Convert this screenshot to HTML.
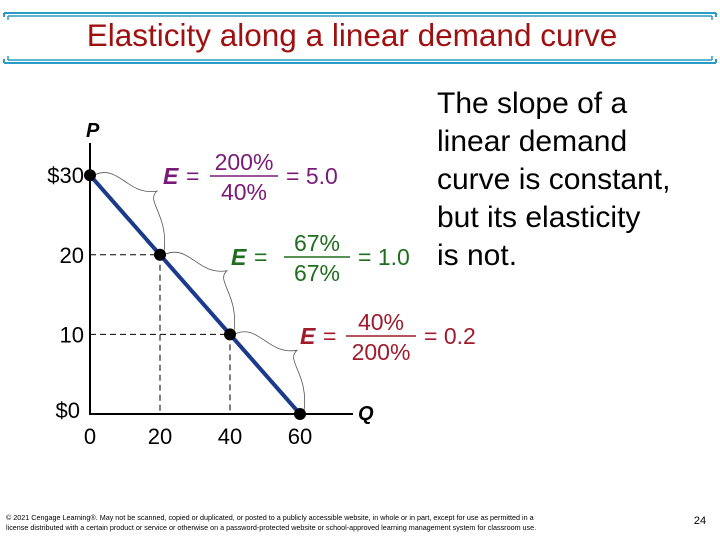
<!DOCTYPE html>
<html><head><meta charset="utf-8"><style>
body{margin:0;background:#fff}
svg{display:block}
text{font-family:"Liberation Sans",sans-serif}
</style></head><body>
<svg width="720" height="540" viewBox="0 0 720 540">
<g fill="none" stroke="#2a9cc4">
<path d="M4 13 H716 M4 13 V17 M716 13 V17" stroke-width="2"/>
<path d="M8 16 H712 M8 16 V20 M712 16 V20" stroke-width="1.5"/>
<path d="M4 63 H716 M4 63 V59 M716 63 V59" stroke-width="2"/>
<path d="M8 60 H712 M8 60 V56 M712 60 V56" stroke-width="1.5"/>
</g>
<text x="352" y="46" text-anchor="middle" font-size="31.5" fill="#a01010">Elasticity along a linear demand curve</text>
<g id="chart"></g>
<g font-size="30" fill="#000">
<text x="437" y="113">The slope of a</text>
<text x="437" y="151">linear demand</text>
<text x="437" y="189">curve is constant,</text>
<text x="437" y="227">but its elasticity</text>
<text x="437" y="265">is not.</text>
</g>
<g font-size="7.2" fill="#000">
<text x="6" y="520">© 2021 Cengage Learning®. May not be scanned, copied or duplicated, or posted to a publicly accessible website, in whole or in part, except for use as permitted in a</text>
<text x="6" y="530">license distributed with a certain product or service or otherwise on a password-protected website or school-approved learning management system for classroom use.</text>
<text x="700" y="524" text-anchor="middle" font-size="11">24</text>
</g>
</svg>
<script>
const qValues=[0,20,40,60];
const pValues=[30,20,10,0];
const xTicks=["0","20","40","60"];
const yTicks=["$30","20","10","$0"];
const elastLabels=[["200%","40%","= 5.0","#7a1a78"],["67%","67%","= 1.0","#1e6e1e"],["40%","200%","= 0.2","#a01c2c"]];
const NS="http://www.w3.org/2000/svg";
const g=document.getElementById('chart');
const X=q=>90+q*3.5, Y=p=>414-p*7.96;
function el(t,a,txt){const e=document.createElementNS(NS,t);for(const k in a)e.setAttribute(k,a[k]);if(txt!=null)e.textContent=txt;g.appendChild(e);return e;}
for(let i=1;i<3;i++){
 const d=el('path',{d:`M${X(0)} ${Y(pValues[i])} H${X(qValues[i])} V${Y(0)}`,fill:'none',stroke:'#000','stroke-width':1,'stroke-dasharray':'6,4'});
 
 
}
const ax=el('path',{d:`M${X(0)} 143 V${Y(0)} H353`,fill:'none',stroke:'#000','stroke-width':2});


const ln=el('line',{x1:X(qValues[0]),y1:Y(pValues[0]),x2:X(qValues[3]),y2:Y(pValues[3]),stroke:'#1b3a8c','stroke-width':4});


for(let i=0;i<3;i++){
 const x1=X(qValues[i])+4,y1=Y(pValues[i]),x2=X(qValues[i+1])+4,y2=Y(pValues[i+1]);
 const tx=x1+(x2-x1)*0.9,ty=y1+(y2-y1)*0.2;
 const b=el('path',{d:`M${x1} ${y1} C${x1+25} ${y1-12} ${tx-30} ${ty+5} ${tx} ${ty} C${tx-12} ${ty+10} ${x2+5} ${y2-40} ${x2} ${y2-3}`,fill:'none',stroke:'#555','stroke-width':0.8});
 
 
}
for(let i=0;i<4;i++){
 const c=el('circle',{cx:X(qValues[i]),cy:Y(pValues[i]),r:6,fill:'#000'});
 
 
 const t=el('text',{x:X(qValues[i]),y:444,'text-anchor':'middle','font-size':22},xTicks[i]);
 
 
 const y=el('text',{x:i==0?84:i==3?80:84,y:Y(pValues[i])+(i==3?4:8),'text-anchor':'end','font-size':22},yTicks[i]);
 
 
}
const pl=el('text',{x:86,y:137,'font-size':20,'font-weight':'bold','font-style':'italic'},'P');


const ql=el('text',{x:358,y:420,'font-size':20,'font-weight':'bold','font-style':'italic'},'Q');


const pos=[[163,176,210,68],[231,257,284,66],[300,336,346,70]];
for(let i=0;i<3;i++){
 const [x,y,fx,w]=pos[i],c=elastLabels[i][3];
 const e=el('text',{x:x,y:y+8,'font-size':23,fill:c,'font-style':'italic','font-weight':'bold'},'E');
 
 
 el('text',{x:x+23,y:y+8,'font-size':23,fill:c},'=');
 el('line',{x1:fx,y1:y,x2:fx+w,y2:y,stroke:c,'stroke-width':1.5});
 el('text',{x:fx+w/2,y:y-6,'text-anchor':'middle','font-size':23,fill:c},elastLabels[i][0]);
 el('text',{x:fx+w/2,y:y+24,'text-anchor':'middle','font-size':23,fill:c},elastLabels[i][1]);
 el('text',{x:fx+w+8,y:y+8,'font-size':23,fill:c},elastLabels[i][2]);
}
</script>
</body></html>
